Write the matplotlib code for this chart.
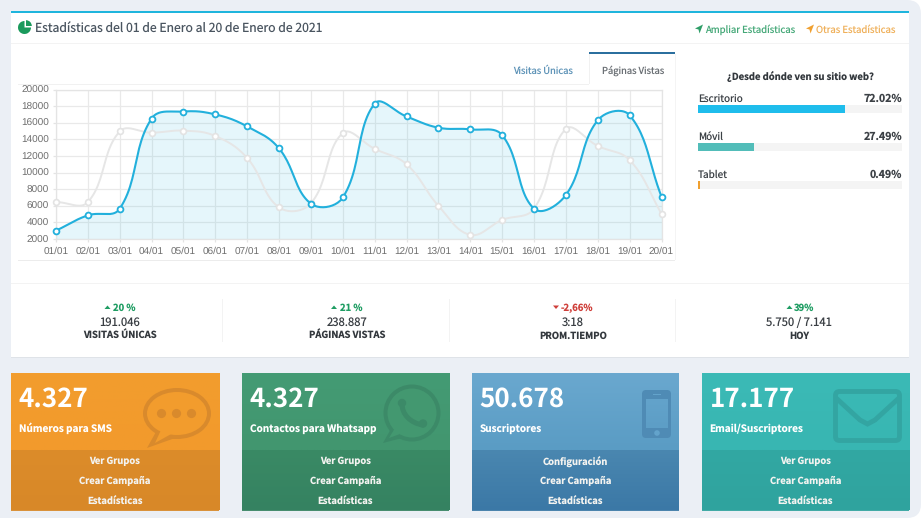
import numpy as np
import matplotlib
matplotlib.use("Agg")
import matplotlib.pyplot as plt
from matplotlib.patches import Rectangle, FancyBboxPatch, Ellipse, Circle, Wedge, Polygon
from matplotlib.path import Path
from matplotlib.patches import PathPatch

dates = ["01/01","02/01","03/01","04/01","05/01","06/01","07/01","08/01","09/01","10/01",
         "11/01","12/01","13/01","14/01","15/01","16/01","17/01","18/01","19/01","20/01"]
paginas_vistas = [3000,4850,5650,16500,17350,17000,15550,12900,6250,7000,
                  18300,16750,15400,15200,14500,5650,7300,16300,16900,7100]
visitas_unicas = [6450,6450,14950,14800,15050,14400,11750,5800,6300,14750,
                  12850,11000,6000,2500,4300,5650,15250,13200,11500,5050]
y_ticks = [2000,4000,6000,8000,10000,12000,14000,16000,18000,20000]

devices = ["Escritorio","Móvil","Tablet"]
device_share = [72.02,27.49,0.49]
device_colors = ["#1fbdec","#52bdb9","#f0a030"]

stat_changes = ["20 %","21 %","-2,66%","39%"]
stat_values = ["191.046","238.887","3:18","5.750 / 7.141"]
stat_labels = ["VISITAS ÚNICAS","PÁGINAS VISTAS","PROM.TIEMPO","HOY"]

card_numbers = ["4.327","4.327","50.678","17.177"]
card_titles = ["Números para SMS","Contactos para Whatsapp","Suscriptores","Email/Suscriptores"]
card_links = [["Ver Grupos","Crear Campaña","Estadísticas"],
              ["Ver Grupos","Crear Campaña","Estadísticas"],
              ["Configuración","Crear Campaña","Estadísticas"],
              ["Ver Grupos","Crear Campaña","Estadísticas"]]

W, H = 921, 518
FONT = "Noto Sans CJK SC"
plt.rcParams["font.family"] = [FONT, "DejaVu Sans"]
plt.rcParams["text.hinting"] = "no_hinting"
plt.rcParams["text.hinting_factor"] = 1
fig = plt.figure(figsize=(W/100, H/100), dpi=100, facecolor="#ffffff")
bg = fig.add_axes([0, 0, 1, 1])
bg.set_xlim(0, W); bg.set_ylim(H, 0); bg.axis("off")

def px(s): return s*0.72
def rect(x0, y0, x1, y1, c, z=2, **k):
    bg.add_patch(Rectangle((x0, y0), x1-x0, y1-y0, facecolor=c, edgecolor="none", zorder=z, **k))
def txt(x, y, s, size, c, ha="center", weight="normal", z=6, **k):
    bg.text(x, y, s, fontsize=px(size), color=c, ha=ha, va="center_baseline", fontweight=weight, zorder=z, **k)

# page background with rounded right corners
bg.add_patch(FancyBboxPatch((-40, 0), W+40, H, boxstyle="round,pad=0,rounding_size=14",
                            facecolor="#ebeff5", edgecolor="none", zorder=0))

# main panel
rect(11, 12, 909, 358, "#dfe3e8", z=1)
rect(11, 12, 909, 357, "#ffffff", z=1.5)
rect(11, 10.5, 909, 13, "#1fb5dd", z=3)
rect(11, 43, 909, 44, "#f3f3f3", z=3)

# header
bg.add_patch(Wedge((24.5, 27.5), 6.5, 0, 270, facecolor="#1a9a5c", edgecolor="none", zorder=5))
bg.add_patch(Wedge((26, 26), 5.8, -90, 0, facecolor="#1a9a5c", edgecolor="none", zorder=5))
txt(35, 27.5, "Estadísticas del 01 de Enero al 20 de Enero de 2021", 12.2, "#4a5560", ha="left")
def arrow_icon(x, y, c):
    bg.add_patch(Polygon([(x+8, y-4), (x+4.5, y+5), (x+3.5, y+1), (x, y)], closed=True,
                         facecolor=c, edgecolor="none", zorder=5))
arrow_icon(695, 28.5, "#2f9e68")
txt(705, 28.5, "Ampliar Estadísticas", 9.55, "#45a878", ha="left")
arrow_icon(806, 28.5, "#f0a030")
txt(816, 28.5, "Otras Estadísticas", 9.55, "#efb05a", ha="left")

# chart frame and tabs
rect(18, 84, 589, 85, "#f1f1f1", z=3)
rect(18, 260, 675, 261, "#ececec", z=3)
rect(589, 52, 675, 54, "#2b6f9e", z=3)
rect(589, 54, 590, 84, "#f1f1f1", z=3)
rect(674.5, 54, 675.5, 260, "#f4f4f4", z=3)
txt(543, 70, "Visitas Únicas", 9.4, "#5f94b8")
txt(633, 69.5, "Páginas Vistas", 9.4, "#6b7075")

# right-hand device panel
txt(800, 75, "¿Desde dónde ven su sitio web?", 9.5, "#33383d", weight="bold")
for i, (name, share, col) in enumerate(zip(devices, device_share, device_colors)):
    y = 98 + i*38
    txt(698, y, name, 10, "#3c4146", ha="left")
    txt(902, y, f"{share:.2f}%", 10.6, "#3c4146", ha="right", weight="bold")
    rect(698, y+7, 902, y+14.5, "#f4f4f4", z=3)
    rect(698, y+7, 698 + 204*share/100, y+14.5, col, z=4)
    if share < 1:
        rect(698, y+7, 699.5, y+14.5, col, z=4)

# stats row
rect(11, 283, 909, 284, "#f3f3f3", z=3)
for x in (222, 449, 675):
    rect(x, 299, x+1, 342, "#f3f3f3", z=3)
centers = [120, 347, 573, 799]
tri_x = [107.5, 334, 556, 789.5]
text_x = [113, 339.5, 561, 794]
for c, tx, lx, ch, v, lab in zip(centers, tri_x, text_x, stat_changes, stat_values, stat_labels):
    up = not ch.startswith("-")
    col = "#1f9d63" if up else "#cf3f3a"
    if up:
        bg.add_patch(Polygon([(tx-3, 309), (tx+3, 309), (tx, 305.5)], facecolor=col, edgecolor="none", zorder=5))
    else:
        bg.add_patch(Polygon([(tx-3, 305.5), (tx+3, 305.5), (tx, 309)], facecolor=col, edgecolor="none", zorder=5))
    txt(lx, 307, ch, 9.5, col, ha="left", weight="bold")
    txt(c, 321, v, 11.3, "#3a3f44")
    txt(c, 335, lab, 9.5, "#33383d", weight="bold")

# cards
cards = [
    (11, 219, "#f29d2e", "#f29a2c", "#dc8c2a", "#d88828"),
    (242, 449, "#449b74", "#42966f", "#3a8a65", "#358261"),
    (472, 679, "#6aa8cf", "#5a9cc4", "#4a87b0", "#3b78a6"),
    (702, 909, "#3bbab6", "#38b6b2", "#32a8a3", "#2fa39e"),
]
def grad(x0, x1, y0, y1, c0, c1, z=2):
    m = np.linspace(0, 1, 64)[:, None, None]
    a = np.array(matplotlib.colors.to_rgb(c0))[None, None, :]
    b = np.array(matplotlib.colors.to_rgb(c1))[None, None, :]
    bg.imshow(a*(1-m)+b*m, extent=(x0, x1, y1, y0), aspect="auto", zorder=z, interpolation="bilinear")

for (x0, x1, t0, t1, f0, f1), num, title, links in zip(cards, card_numbers, card_titles, card_links):
    grad(x0, x1, 373, 450, t0, t1)
    grad(x0, x1, 450, 510, f0, f1)
    rect(x0, 509, x1, 510.5, f1, z=3, alpha=0.9)
    txt(x0+7.5, 396, num, 26, "#ffffff", ha="left", weight="bold")
    txt(x0+7.5, 427.5, title, 10, "#ffffff", ha="left", weight="bold")
    cx = (x0+x1)/2
    for j, l in enumerate(links):
        txt(cx, 460.5 + j*19.7, l, 9.4, "#f3f3f0", weight="bold")

# icons
o1 = "#d98a2c"; o0 = "#f29c2d"
bg.add_patch(Ellipse((177, 413.5), 68, 51, facecolor=o1, edgecolor="none", zorder=4.5))
bg.add_patch(Polygon([(157, 430), (147, 448), (178, 437)], facecolor=o1, edgecolor="none", zorder=4.5))
bg.add_patch(Ellipse((177, 413.5), 60, 43, facecolor=o0, edgecolor="none", zorder=4.7))
bg.add_patch(Polygon([(161, 430), (155, 443), (173, 433)], facecolor=o0, edgecolor="none", zorder=4.7))
for dx in (-15, 0, 15):
    bg.add_patch(Circle((176.5+dx, 413.5), 4.6, facecolor=o1, edgecolor="none", zorder=5))

g1 = "#3c8a68"; g0 = "#439870"
bg.add_patch(Circle((412, 413), 28.5, facecolor=g1, edgecolor="none", zorder=4.5))
bg.add_patch(Polygon([(392, 427), (383, 443), (402, 438)], facecolor=g1, edgecolor="none", zorder=4.5))
bg.add_patch(Circle((412, 413), 24.5, facecolor=g0, edgecolor="none", zorder=4.7))
bg.add_patch(Polygon([(395, 428), (389, 438), (400, 434)], facecolor=g0, edgecolor="none", zorder=4.7))
bg.add_patch(PathPatch(Path([(402, 404), (402, 414), (410, 423), (423, 425)],
                            [Path.MOVETO, Path.CURVE4, Path.CURVE4, Path.CURVE4]),
                       facecolor="none", edgecolor=g1, lw=3.6, capstyle="round", zorder=5))
bg.add_patch(Circle((402, 403), 4.2, facecolor=g1, edgecolor="none", zorder=5))
bg.add_patch(Circle((423, 423.5), 4.2, facecolor=g1, edgecolor="none", zorder=5))

b1 = "#4f8bb5"
bg.add_patch(FancyBboxPatch((642, 390), 29, 48, boxstyle="round,pad=0,rounding_size=4",
                            facecolor=b1, edgecolor="none", zorder=5))
grad(646, 668, 399, 428, "#63a3cb", "#5d9ec6", z=5.1)
bg.add_patch(Circle((657, 433), 2.8, facecolor="#63a3cb", edgecolor="none", zorder=5.2))
rect(653, 394, 661, 395, "#63a3cb", z=5.2)

t1 = "#33a5a2"
bg.add_patch(FancyBboxPatch((835.5, 391.5), 64, 49, boxstyle="round,pad=0,rounding_size=4",
                            facecolor="none", edgecolor=t1, lw=3.5, zorder=5))
bg.add_patch(PathPatch(Path([(836, 398), (860, 420), (867.5, 424), (875, 420), (899, 398)]),
                       facecolor="none", edgecolor=t1, lw=3.5, zorder=5))

bg.set_xlim(0, W); bg.set_ylim(H, 0)

# line chart
L, R, T, B = 56, 661.5, 89.5, 239
ax = fig.add_axes([L/W, 1-B/H, (R-L)/W, (B-T)/H], facecolor="none", zorder=3)
x = np.arange(len(dates))
sx, sy = (R-L)/(len(dates)-1), (B-T)/18000

def spline(xv, yv, t=0.4, n=24):
    xv, yv = np.asarray(xv, float), np.asarray(yv, float)
    p = np.c_[xv*sx, yv*sy]
    c1, c2 = [p[0]]*len(p), [p[0]]*len(p)
    for i in range(len(p)):
        a, b, c = p[max(i-1, 0)], p[i], p[min(i+1, len(p)-1)]
        d1, d2 = np.hypot(*(b-a)), np.hypot(*(c-b))
        fa = t*d1/(d1+d2); fb = t*d2/(d1+d2)
        c1[i] = b-fa*(c-a)
        c2[i] = b+fb*(c-a)
    u = np.linspace(0, 1, n, endpoint=False)[:, None]
    seg = [(1-u)**3*p[i]+3*(1-u)**2*u*c2[i]+3*(1-u)*u**2*c1[i+1]+u**3*p[i+1] for i in range(len(p)-1)]
    out = np.vstack(seg+[p[-1:]])
    return out[:, 0]/sx, out[:, 1]/sy

ax.set_xlim(0, len(dates)-1); ax.set_ylim(2000, 20000)
ax.set_xticks(x, dates); ax.set_yticks(y_ticks, [str(v) for v in y_ticks])
ax.grid(True, color="#e9e9e9", lw=0.9)
ax.set_axisbelow(True)
ax.tick_params(colors="#e4e4e4", labelcolor="#6e6e6e", labelsize=6.9, length=2.5, width=0.9)
ax.tick_params(axis="y", pad=2.5)
ax.tick_params(axis="x", pad=3.2)
for lab in ax.get_xticklabels()+ax.get_yticklabels():
    lab.set_family(["Liberation Sans", "DejaVu Sans"])
for s in ax.spines.values():
    s.set_color("#e4e4e4"); s.set_linewidth(0.9)
gx, gy = spline(x, visitas_unicas)
bx, by = spline(x, paginas_vistas)
ax.fill_between(bx, by, 2000, color="#22b5e0", alpha=0.115, lw=0, zorder=2)
ax.plot(gx, gy, color="#e6e6e6", lw=1.4, zorder=3, clip_on=False)
ax.plot(x, visitas_unicas, ls="none", marker="o", ms=4.2, mfc="#ffffff", mec="#e3e3e3", mew=1.2, zorder=4, clip_on=False)
ax.plot(bx, by, color="#22b0dc", lw=1.5, zorder=5, clip_on=False)
ax.plot(x, paginas_vistas, ls="none", marker="o", ms=4.2, mfc="#ffffff", mec="#22b0dc", mew=1.3, zorder=6, clip_on=False)

fig.savefig("out.png", dpi=100, facecolor=fig.get_facecolor())
